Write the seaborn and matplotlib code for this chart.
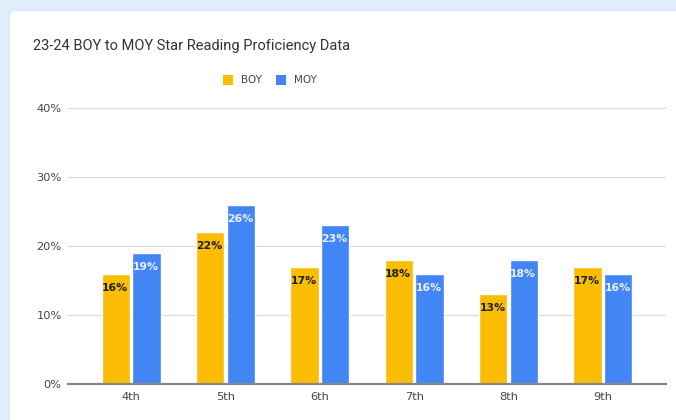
import matplotlib
matplotlib.use("Agg")
import matplotlib.pyplot as plt
import seaborn as sns
import pandas as pd
from matplotlib.patches import FancyBboxPatch, Patch

grades = ["4th", "5th", "6th", "7th", "8th", "9th"]
boy = [16, 22, 17, 18, 13, 17]
moy = [19, 26, 23, 16, 18, 16]
series = ["BOY", "MOY"]
colors = ["#FBBC04", "#4285F4"]
label_colors = ["#202124", "#e8f0fe"]
yticks = [0, 10, 20, 30, 40]

df = pd.DataFrame({
    "grade": grades * 2,
    "value": boy + moy,
    "series": ["BOY"] * len(grades) + ["MOY"] * len(grades),
})

sns.set_theme(style="white")
plt.rcParams["font.family"] = ["DejaVu Sans"]

fig = plt.figure(figsize=(6.76, 4.2), dpi=100)
fig.patch.set_facecolor("#dfeefd")
panel = FancyBboxPatch((10 / 676, -0.05), 1.2, 1.0 - 11 / 420 + 0.05,
                       boxstyle="round,pad=0,rounding_size=0.012",
                       transform=fig.transFigure, facecolor="white",
                       edgecolor="none", zorder=-10)
fig.patches.append(panel)

ax = fig.add_axes([68 / 676, 36 / 420, (666 - 68) / 676, (384 - 108) / 420])
ax.set_zorder(2)
ax.set_facecolor("none")
sns.barplot(data=df, x="grade", y="value", hue="series", palette=colors,
            width=0.65, gap=0.08, ax=ax, legend=False, saturation=1, zorder=3)

for i, cont in enumerate(ax.containers):
    for bar in cont:
        h = bar.get_height()
        x = bar.get_x()
        ax.annotate(f"{h:.0f}%", xy=(x, h), xytext=(0.5, -14),
                    textcoords="offset pixels",
                    ha="left", va="center", fontsize=7.8, fontweight="bold",
                    color=label_colors[i], zorder=4)

ax.set_ylim(0, 40)
ax.set_xlim(-0.5 - 0.17, 5.5 + 0.17)
ax.set_yticks(yticks)
ax.set_yticklabels([f"{t}%" for t in yticks], fontsize=8.2, color="#444444")
ax.tick_params(axis="x", labelsize=8.2, colors="#444444", length=0, pad=6)
ax.tick_params(axis="y", length=0, pad=4.5)
ax.set_xlabel("")
ax.set_ylabel("")
ax.grid(axis="y", color="#dadada", linewidth=0.8, zorder=0)
ax.set_axisbelow(True)
for s in ["top", "right", "left"]:
    ax.spines[s].set_visible(False)
ax.spines["bottom"].set_color("#888888")
ax.spines["bottom"].set_linewidth(1.6)
ax.spines["bottom"].set_zorder(5)

fig.text(33 / 676, 1 - 46 / 420, "23-24 BOY to MOY Star Reading Proficiency Data",
         fontsize=10.5, color="#333333", va="center", ha="left", family=["Roboto", "DejaVu Sans"])

handles = [Patch(facecolor=c, edgecolor="none") for c in colors]
leg = fig.legend(handles, series, loc="center", bbox_to_anchor=(270 / 676, 1 - 80 / 420),
                 ncol=2, frameon=False, fontsize=7.4, handlelength=0.9, handleheight=1.1,
                 handletextpad=0.8, columnspacing=1.4, labelcolor="#444444")

fig.savefig("out.png", dpi=100, facecolor=fig.get_facecolor())
